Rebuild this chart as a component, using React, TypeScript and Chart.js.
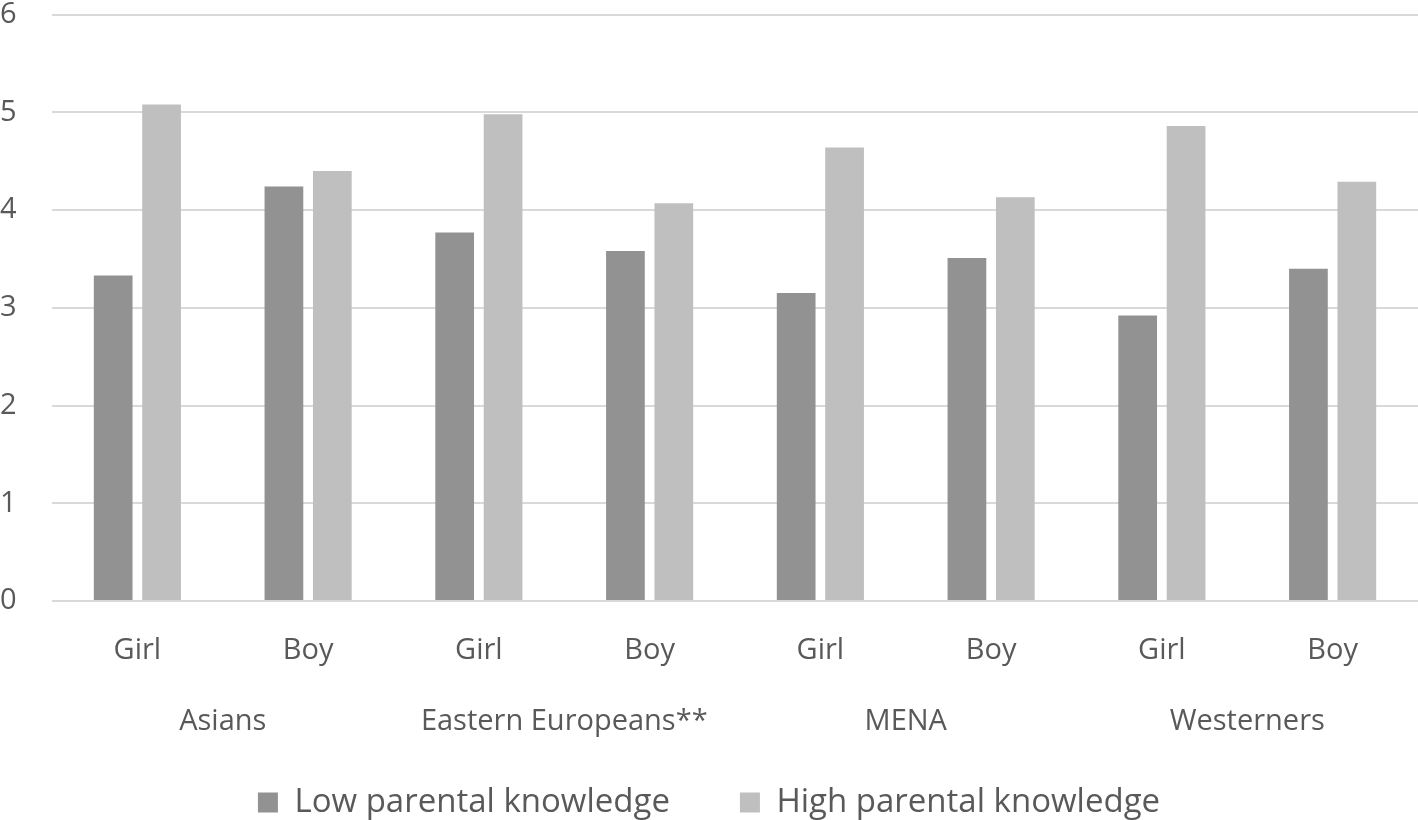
import React, { useEffect, useRef } from "react";
import { Chart, registerables } from "chart.js";

Chart.register(...registerables);

const genders = ["Girl", "Boy", "Girl", "Boy", "Girl", "Boy", "Girl", "Boy"];
const groups = ["Asians", "Eastern Europeans**", "MENA", "Westerners"];
const lowKnowledge = [3.33, 4.24, 3.77, 3.58, 3.15, 3.51, 2.92, 3.4];
const highKnowledge = [5.08, 4.4, 4.98, 4.07, 4.64, 4.13, 4.86, 4.29];
const yTicks = [0, 1, 2, 3, 4, 5, 6];

const FONT = "'Open Sans', sans-serif";
const SIZE = 29;
const TEXT = "#595959";

export default function App() {
  const ref = useRef<HTMLCanvasElement | null>(null);
  useEffect(() => {
    if (!ref.current) return;
    const chart = new Chart(ref.current, {
      type: "bar",
      data: {
        labels: genders,
        datasets: [
          {
            label: "Low parental knowledge",
            data: lowKnowledge,
            backgroundColor: "#929292",
            categoryPercentage: 0.567,
            barPercentage: 0.8,
          },
          {
            label: "High parental knowledge",
            data: highKnowledge,
            backgroundColor: "#bfbfbf",
            categoryPercentage: 0.567,
            barPercentage: 0.8,
          },
        ],
      },
      options: {
        animation: false,
        responsive: true,
        maintainAspectRatio: false,
        layout: { padding: { top: 0, right: 0, left: 0, bottom: -9 } },
        plugins: {
          tooltip: { enabled: false },
          legend: {
            position: "bottom",
            title: {
              display: true,
              text: "",
              padding: { top: -28, bottom: 0 },
              font: { size: 1, lineHeight: 1 },
            },
            labels: {
              color: TEXT,
              font: { family: FONT, size: 33 },
              boxWidth: 20,
              boxHeight: 20,
              padding: 70,
            },
          },
        },
        scales: {
          y: {
            min: 0,
            max: 6,
            afterBuildTicks: (s: any) => {
              s.ticks = yTicks.map((v) => ({ value: v }));
            },
            afterFit: (s: any) => {
              s.width = 52;
            },
            ticks: {
              color: TEXT,
              font: { family: FONT, size: SIZE, lineHeight: 1.0 },
              padding: 0,
              crossAlign: "far",
            },
            grid: { color: "#d9d9d9", lineWidth: 2, drawTicks: false },
            border: { display: false },
          },
          x: {
            weight: 0,
            ticks: {
              color: TEXT,
              font: { family: FONT, size: SIZE },
              padding: 32.6,
            },
            grid: { display: false, drawTicks: false },
            border: { display: false },
          },
          x2: {
            type: "category",
            labels: groups,
            position: "bottom",
            offset: true,
            weight: 1,
            ticks: {
              color: TEXT,
              font: { family: FONT, size: SIZE },
              padding: 3.6,
            },
            grid: { display: false, drawTicks: false },
            border: { display: false },
          },
        },
      } as any,
    });
    return () => chart.destroy();
  }, []);
  return (
    <div style={{ position: "fixed", left: 0, top: 0, width: 1418, height: 820, background: "#fff" }}>
      <canvas ref={ref} />
    </div>
  );
}
